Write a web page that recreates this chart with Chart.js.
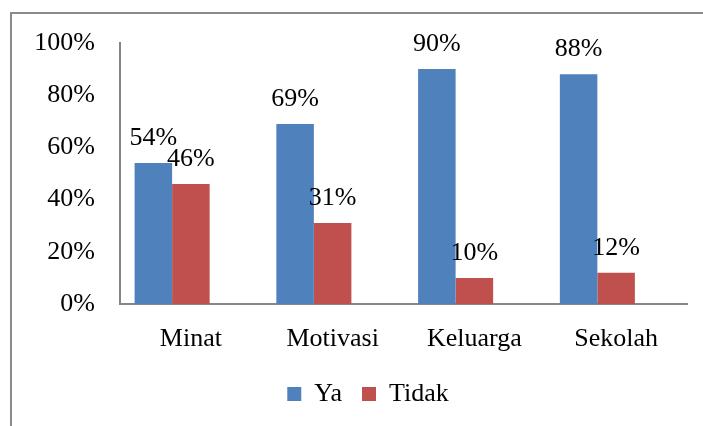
<!DOCTYPE html>
<html>
<head>
<meta charset="utf-8">
<script src="https://cdn.jsdelivr.net/npm/chart.js@4"></script>
<style>
html, body { margin: 0; padding: 0; background: #fff; width: 703px; height: 426px; overflow: hidden; }
#c { position: absolute; left: 0; top: 0; }
</style>
</head>
<body>
<canvas id="c" width="703" height="426"></canvas>
<script>
const categories = ["Minat", "Motivasi", "Keluarga", "Sekolah"];
const seriesNames = ["Ya", "Tidak"];
const yaValues = [54, 69, 90, 88];
const tidakValues = [46, 31, 10, 12];
const blankSeries = [null, null, null, null];
const yTicks = [0, 20, 40, 60, 80, 100];

const FONT = "'Liberation Serif', serif";

const frame = {
  id: 'frame',
  beforeDraw(chart) {
    const ctx = chart.ctx;
    ctx.save();
    ctx.strokeStyle = '#8a8a8a';
    ctx.lineWidth = 2;
    ctx.beginPath();
    ctx.moveTo(11, 426);
    ctx.lineTo(11, 13);
    ctx.lineTo(703, 13);
    ctx.stroke();
    ctx.restore();
  }
};

const legendShift = {
  id: 'legendShift',
  afterLayout(chart) {
    const lg = chart.legend;
    if (lg) {
      lg.left += 12;
      lg.right += 12;
      if (lg.legendHitBoxes) lg.legendHitBoxes.forEach(b => { b.left += 12; });
    }
  }
};

const valueLabels = {
  id: 'valueLabels',
  afterDatasetsDraw(chart) {
    const ctx = chart.ctx;
    ctx.save();
    ctx.font = '26px ' + FONT;
    ctx.fillStyle = '#000';
    ctx.textAlign = 'center';
    ctx.textBaseline = 'middle';
    chart.data.datasets.forEach((ds, i) => {
      const meta = chart.getDatasetMeta(i);
      meta.data.forEach((bar, j) => {
        if (ds.data[j] === null || ds.data[j] === undefined) return;
        ctx.fillText(ds.data[j] + '%', bar.x, bar.y - 25);
      });
    });
    ctx.restore();
  }
};

new Chart(document.getElementById('c'), {
  type: 'bar',
  data: {
    labels: categories,
    datasets: [
      { label: seriesNames[0], data: yaValues, backgroundColor: '#4F81BD' },
      { label: seriesNames[1], data: tidakValues, backgroundColor: '#C0504D' },
      { label: '', data: blankSeries, backgroundColor: 'rgba(0,0,0,0)' }
    ]
  },
  options: {
    responsive: false,
    devicePixelRatio: 1,
    animation: false,
    layout: { padding: { left: 25, right: 16, top: 43, bottom: 9 } },
    datasets: { bar: { categoryPercentage: 0.794, barPercentage: 1.0 } },
    plugins: {
      legend: {
        position: 'bottom',
        labels: {
          font: { family: FONT, size: 26 },
          color: '#000',
          boxWidth: 14,
          boxHeight: 14,
          padding: 20,
          filter: item => item.text !== ''
        }
      },
      tooltip: { enabled: false }
    },
    scales: {
      x: {
        afterFit(scale) { scale.height = 57; },
        grid: { display: false, drawTicks: false },
        border: { display: true, color: '#868686', width: 2 },
        ticks: { font: { family: FONT, size: 26 }, color: '#000', padding: 20 }
      },
      y: {
        min: 0, max: 100,
        afterFit(scale) { scale.width = 95; },
        afterBuildTicks(scale) { scale.ticks = yTicks.map(v => ({ value: v })); },
        grid: { display: false, drawTicks: false },
        border: { display: true, color: '#868686', width: 2 },
        ticks: {
          font: { family: FONT, size: 26 }, color: '#000', padding: 25,
          callback: v => v + '%'
        }
      }
    }
  },
  plugins: [frame, legendShift, valueLabels]
});
</script>
</body>
</html>
